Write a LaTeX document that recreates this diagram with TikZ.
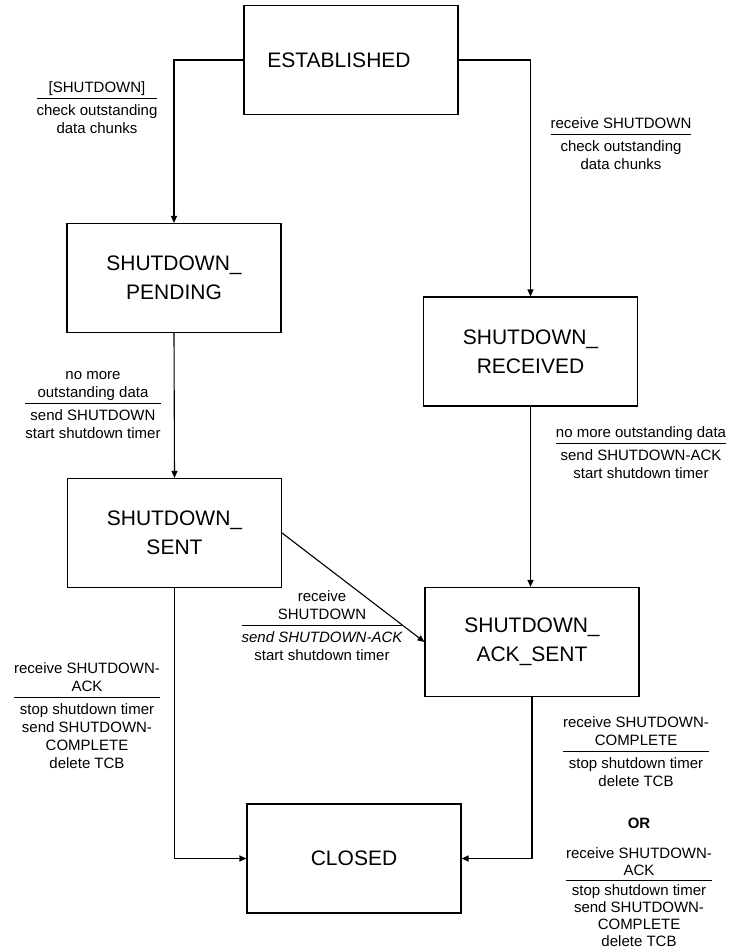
\documentclass[tikz,border=0pt]{standalone}
\usepackage{fontspec}
\setmainfont{Liberation Sans}
\usetikzlibrary{arrows.meta}
\setlength{\arrayrulewidth}{1pt}
% rule between trigger and action, with room above the action text
\newcommand\ruleline{\\\hline\rule{0pt}{17pt}}
\newcommand\tightruleline{\\\hline\rule{0pt}{14pt}}
\begin{document}
\begin{tikzpicture}[x=1pt,y=-1pt,
  state/.style={draw, line width=1.1pt, minimum width=214pt, minimum height=109pt,
    align=center, inner sep=0pt, font=\fontsize{21}{29}\selectfont},
  lbl/.style={inner sep=0pt, anchor=north, font=\fontsize{15}{18}\selectfont},
  conn/.style={line width=1.1pt, -{Triangle[length=7pt,width=6pt]}}]
\useasboundingbox (0,0) rectangle (731,949);

% states
\node[state] (est)  at (351,60)    {ESTABLISHED\hspace*{24pt}};
\node[state] (pend) at (174,278)   {SHUTDOWN\_\\PENDING};
\node[state] (sent) at (174.5,533) {SHUTDOWN\_\\SENT};
\node[state] (rec)  at (530.5,351.5) {SHUTDOWN\_\\RECEIVED};
\node[state] (ack)  at (532,642)   {SHUTDOWN\_\\ACK\_SENT};
\node[state] (cls)  at (354,858.5) {CLOSED};

% transitions
\draw[conn] (est.west) -| (pend.north);
\draw[conn] (est.east) -| (rec.north);
\draw[conn] (pend.south) -- (sent.north);
\draw[conn] (rec.south) -- (rec.south |- ack.north);
\draw[conn] (sent.east) -- (ack.west);
\draw[conn] (sent.south) |- (cls.west);
\draw[conn] (ack.south) |- (cls.east);

% transition labels: trigger above the rule, actions below
\node[lbl] (t1) at (97,79.5) {\begin{tabular}{@{}c@{}}
  [SHUTDOWN]\ruleline check outstanding\\ data chunks\end{tabular}};
\node[lbl] (t2) at (621,115.5) {\begin{tabular}{@{}c@{}}
  receive SHUTDOWN\ruleline check outstanding\\ data chunks\end{tabular}};
\node[lbl] (t3) at (93,366.5) {\begin{tabular}{@{}c@{}}
  no more\\ outstanding data\ruleline send SHUTDOWN\\ start shutdown timer\end{tabular}};
\node[lbl] (t4) at (641,424.5) {\begin{tabular}{@{}c@{}}
  no more outstanding data\ruleline send SHUTDOWN-ACK\\ start shutdown timer\end{tabular}};
\node[lbl] (t5) at (322,588.4) {\begin{tabular}{@{}c@{}}
  receive\\ SHUTDOWN\ruleline {\itshape send SHUTDOWN-ACK}\\ start shutdown timer\end{tabular}};
\node[lbl] (t6) at (87,660.5) {\begin{tabular}{@{}c@{}}
  receive SHUTDOWN-\\ ACK\ruleline stop shutdown timer\\ send SHUTDOWN-\\ COMPLETE\\ delete TCB\end{tabular}};
\node[lbl] (t7) at (636,714.5) {\begin{tabular}{@{}c@{}}
  receive SHUTDOWN-\\ COMPLETE\ruleline stop shutdown timer\\ delete TCB\end{tabular}};
\node[lbl, anchor=base] (or) at (639,828) {\bfseries OR};
\node[lbl, font=\fontsize{15}{17}\selectfont] (t8) at (639,846.1) {\begin{tabular}{@{}c@{}}
  receive SHUTDOWN-\\ ACK\tightruleline stop shutdown timer\\ send SHUTDOWN-\\ COMPLETE\\ delete TCB\end{tabular}};
\end{tikzpicture}
\end{document}
